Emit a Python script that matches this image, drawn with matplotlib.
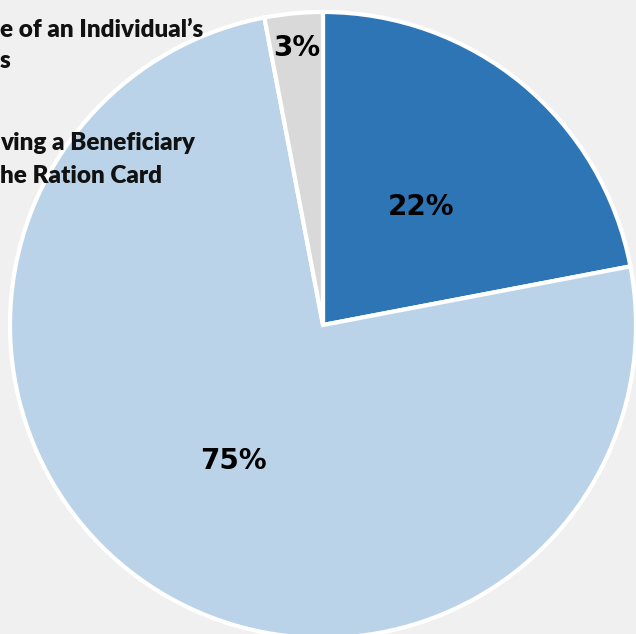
import numpy as np
import matplotlib.pyplot as plt

# slice data, clockwise from 12 o'clock
shares = [22, 75, 3]
pct_labels = ["22%", "75%", "3%"]
slice_colors = ["#2e75b6", "#bad3e8", "#d9d9d9"]

# legend text as visible (cut at the left edge in the source image)
legend_lines = [
    "e of an Individual\u2019s",
    "s",
    "ving a Beneficiary",
    "he Ration Card",
]

W, H = 636, 634
fig = plt.figure(figsize=(W / 100, H / 100), dpi=100)
fig.patch.set_facecolor("#f0f0f0")
ax = fig.add_axes([0, 0, 1, 1])
ax.set_facecolor("#f0f0f0")

cx, cy, r = 323, H - 325, 313
wedges, _ = ax.pie(shares, colors=slice_colors, startangle=90, counterclock=False,
                   center=(cx, cy), radius=r, frame=True,
                   wedgeprops=dict(edgecolor="white", linewidth=3))
ax.set_xlim(0, W)
ax.set_ylim(0, H)
ax.set_aspect("equal")
ax.axis("off")

# label distance (fraction of radius) per slice
label_dist = [0.49, 0.525, 0.89]
for w, txt, d in zip(wedges, pct_labels, label_dist):
    mid = np.deg2rad((w.theta1 + w.theta2) / 2)
    ax.text(cx + d * r * np.cos(mid) + (3 if txt == "75%" else 0),
            cy + d * r * np.sin(mid), txt,
            ha="center", va="center", fontsize=20, fontweight="heavy",
            family="DejaVu Sans", color="black")

line_y = [30, 61, 143, 176]
for t, y in zip(legend_lines, line_y):
    ax.text(0, H - y, t, ha="left", va="center", fontsize=17.5,
            fontweight="heavy", family="Lato", color="#111111")

fig.savefig("out.png", dpi=100, facecolor=fig.get_facecolor())
